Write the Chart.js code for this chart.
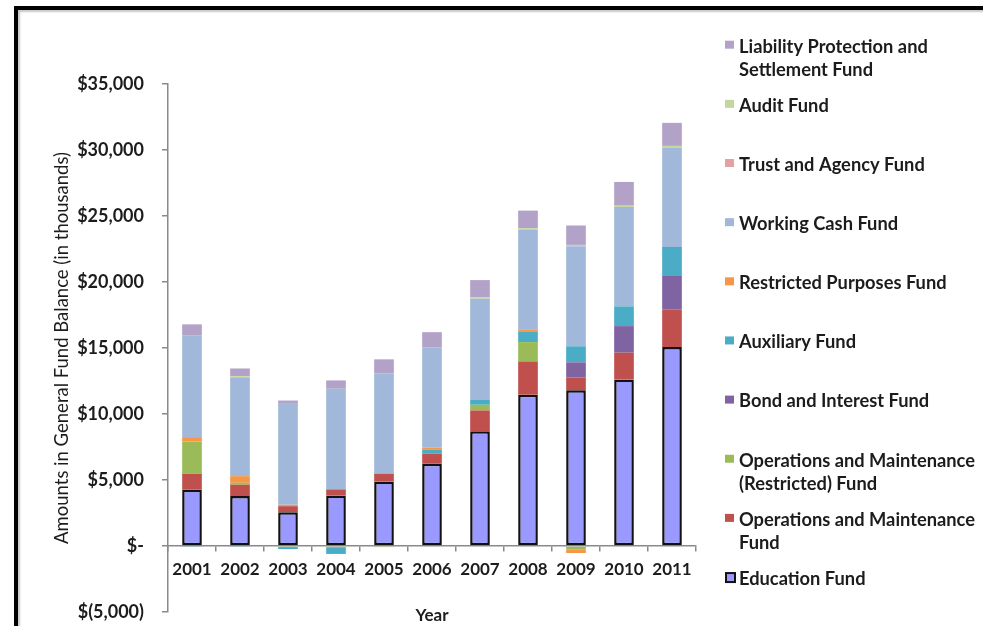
<!DOCTYPE html>
<html>
<head>
<meta charset="utf-8">
<script src="https://cdn.jsdelivr.net/npm/chart.js@4/dist/chart.umd.min.js"></script>
<style>
  html, body { margin: 0; padding: 0; background: #fff; }
  #wrap { position: relative; width: 983px; height: 626px; overflow: hidden; }
  #c { position: absolute; left: 0; top: 0; }
  #frame {
    position: absolute; left: 14px; top: 6px; right: -20px; bottom: -20px;
    border-top: 4px solid #000; border-left: 4px solid #000;
    box-shadow: inset 2px 2px 2px rgba(0,0,0,0.22);
    pointer-events: none;
  }
</style>
</head>
<body>
<div id="wrap">
  <canvas id="c" width="983" height="626"></canvas>
  <div id="frame"></div>
</div>
<script>
// Fund balances by year, in thousands of dollars
const years = ['2001','2002','2003','2004','2005','2006','2007','2008','2009','2010','2011'];

const educationFund        = [4280, 3780, 2560, 3830, 4890, 6230, 8700, 11460, 11790, 12620, 15070];
const opsMaintFund         = [1190,  860,  455,  455,  585,  760, 1570,  2525,   965,  2025,  2860];
const opsMaintRestricted   = [2450,  150,  -80, -150,  -80,    0,  430,  1465,  -250,     0,     0];
const bondInterestFund     = [   0,    0,    0,    0,    0,    0,    0,     0,  1160,  2015,  2525];
const auxiliaryFund        = [ -40,  -40, -150, -450,    0,  300,  400,   810,  1215,  1495,  2200];
const restrictedPurposes   = [ 330,  500,  105,    0,    0,  150,    0,   130,  -280,   -60,   -60];
const workingCashFund      = [7710, 7500, 7650, 7630, 7580, 7625, 7630,  7580,  7580,  7530,  7535];
const trustAgencyFund      = [   0,    0,    0,    0,    0,    0,    0,     0,     0,     0,     0];
const auditFund            = [   0,   70,    0,    0,    0,    0,  100,   100,   100,   100,   120];
const liabilityFund        = [ 830,  590,  250,  630, 1085, 1135, 1315,  1340,  1470,  1795,  1745];

// Legend wording, one entry per fund, split into display lines
const nameEducation   = ['Education Fund'];
const nameOpsMaint    = ['Operations and Maintenance', 'Fund'];
const nameOpsMaintR   = ['Operations and Maintenance', '(Restricted) Fund'];
const nameBond        = ['Bond and Interest Fund'];
const nameAux         = ['Auxiliary Fund'];
const nameRestricted  = ['Restricted Purposes Fund'];
const nameWorkingCash = ['Working Cash Fund'];
const nameTrust       = ['Trust and Agency Fund'];
const nameAudit       = ['Audit Fund'];
const nameLiability   = ['Liability Protection and', 'Settlement Fund'];

const FONT = 'Lato, "DejaVu Sans", sans-serif';
const TEXT = '#1c1c1c';

function ds(lines, data, color, extra) {
  return Object.assign({
    label: lines.join(' '),
    legendLines: lines,
    data: data,
    backgroundColor: color,
    borderWidth: 0,
    stack: 'funds'
  }, extra || {});
}

const datasets = [
  ds(nameEducation, educationFund, '#9999FF', { borderColor: '#111', borderWidth: 2.5, borderSkipped: false }),
  ds(nameOpsMaint, opsMaintFund, '#C0504D'),
  ds(nameOpsMaintR, opsMaintRestricted, '#9BBB59'),
  ds(nameBond, bondInterestFund, '#8064A2'),
  ds(nameAux, auxiliaryFund, '#4BACC6'),
  ds(nameRestricted, restrictedPurposes, '#F79646'),
  ds(nameWorkingCash, workingCashFund, '#A2B8DA'),
  ds(nameTrust, trustAgencyFund, '#E3A2A1'),
  ds(nameAudit, auditFund, '#C3D69B'),
  ds(nameLiability, liabilityFund, '#B3A2C7')
];

function money(v) {
  if (v === 0) return '$-';
  const s = Math.abs(v).toLocaleString('en-US');
  return v < 0 ? '$(' + s + ')' : '$' + s;
}

// Legend on the right: top entry is the last dataset, evenly spaced rows
const sideLegend = {
  id: 'sideLegend',
  afterDraw(chart) {
    const ctx = chart.ctx;
    const sets = chart.data.datasets.slice().reverse();
    const x0 = 725, y0 = 46.7, rowGap = 59.15, lineGap = 23.5, box = 9;
    ctx.save();
    ctx.font = 'bold 18.3px ' + FONT;
    ctx.fillStyle = TEXT;
    ctx.textBaseline = 'middle';
    ctx.textAlign = 'left';
    sets.forEach((d, i) => {
      const y = y0 + i * rowGap;
      if (d.borderWidth > 0) {
        ctx.fillStyle = d.borderColor;
        ctx.fillRect(x0, y - 7, 11, 11);
        ctx.fillStyle = d.backgroundColor;
        ctx.fillRect(x0 + 2, y - 5, 7, 7);
      } else {
        ctx.fillStyle = d.backgroundColor;
        ctx.fillRect(x0, y - 6, box, box - 1);
      }
      ctx.fillStyle = TEXT;
      d.legendLines.forEach((ln, k) => ctx.fillText(ln, x0 + 14, y + k * lineGap));
    });
    ctx.restore();
  }
};

new Chart(document.getElementById('c'), {
  type: 'bar',
  data: { labels: years, datasets: datasets },
  options: {
    responsive: false,
    animation: false,
    devicePixelRatio: 1,
    layout: { padding: { left: 0, top: 84, right: 287, bottom: 0 } },
    datasets: { bar: { categoryPercentage: 1, barPercentage: 0.41 } },
    plugins: { legend: { display: false }, tooltip: { enabled: false } },
    scales: {
      x: {
        stacked: true,
        position: { y: 0 },
        offset: true,
        grid: { offset: true, drawOnChartArea: false, drawTicks: true, tickLength: 5, color: '#8a8a8a', lineWidth: 1.5 },
        border: { color: '#8a8a8a', width: 1.5 },
        ticks: { padding: 8, color: TEXT, font: { family: FONT, size: 17, weight: 'bold' }, maxRotation: 0 }
      },
      x2: {
        type: 'category',
        labels: years,
        position: 'bottom',
        grid: { display: false },
        border: { display: false },
        ticks: { display: false },
        title: { display: true, text: 'Year', color: TEXT, font: { family: FONT, size: 17, weight: 'bold' }, padding: 0 },
        afterFit(s) { s.height = 14; }
      },
      y: {
        stacked: true,
        min: -5000,
        max: 35000,
        ticks: { stepSize: 5000, padding: 18, color: TEXT, font: { family: FONT, size: 18, weight: 'bold' }, callback: v => money(v) },
        grid: { drawOnChartArea: false, drawTicks: true, tickLength: 6, color: '#8a8a8a', lineWidth: 1.5 },
        border: { color: '#8a8a8a', width: 1.5 },
        title: { display: true, text: 'Amounts in General Fund Balance (in thousands)', color: TEXT, font: { family: FONT, size: 18.5 }, padding: { top: 51, bottom: 0 } },
        afterFit(s) { s.width = 168; s.paddingTop = 0; s.paddingBottom = 0; }
      }
    }
  },
  plugins: [sideLegend]
});
</script>
</body>
</html>
